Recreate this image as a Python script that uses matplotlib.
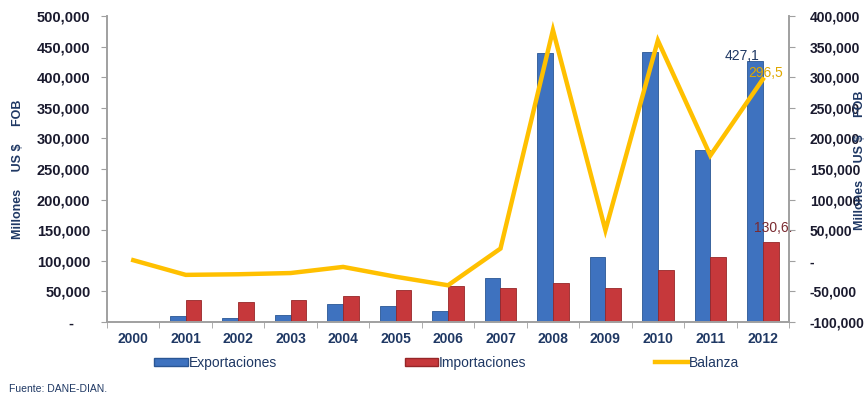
import numpy as np
from matplotlib import pyplot as plt
from matplotlib.lines import Line2D
from matplotlib.patches import Patch

years = ["2000", "2001", "2002", "2003", "2004", "2005", "2006",
         "2007", "2008", "2009", "2010", "2011", "2012"]
exportaciones = [0, 9000, 6500, 11000, 29000, 26000, 18000,
                 72000, 440000, 106000, 441000, 281000, 427100]
importaciones = [0, 36000, 32000, 36000, 42000, 52000, 59000,
                 56000, 64000, 55000, 85000, 106000, 130600]
balanza = [1000, -23000, -22000, -20000, -10000, -26000, -40000,
           20000, 377000, 50000, 360000, 172000, 296500]

navy = "#1F3864"
blue = "#3E72BF"
red = "#C6383B"
gold = "#FFC000"

plt.rcParams["font.family"] = ["Liberation Sans", "DejaVu Sans"]

fig = plt.figure(figsize=(8.66, 4.0), dpi=100)
ax1 = fig.add_axes([0.1236, 0.195, 0.7875, 0.765])
ax2 = ax1.twinx()

x = np.arange(len(years))
w = 0.3
ax1.bar(x - w / 2, exportaciones, w, color=blue, edgecolor="#2A5694", linewidth=0.6, zorder=2)
ax1.bar(x + w / 2, importaciones, w, color=red, edgecolor="#962628", linewidth=0.6, zorder=2)
ax2.plot(x, balanza, color=gold, linewidth=3.2, solid_joinstyle="miter", zorder=3)

ax1.set_xlim(-0.5, len(years) - 0.5)
ax1.set_ylim(0, 500000)
ax2.set_ylim(-100000, 400000)

def fmt(v, left):
    if v == 0:
        return "-    " if left else "-"
    return "{:,}".format(int(v))

lt = np.arange(0, 500001, 50000)
ax1.set_yticks(lt)
ax1.set_yticklabels([fmt(v, True) for v in lt])
rt = np.arange(-100000, 400001, 50000)
ax2.set_yticks(rt)
ax2.set_yticklabels([fmt(v, False) for v in rt])

ax1.set_xticks(x)
ax1.set_xticklabels(years)
ax1.set_xticks(np.arange(-0.5, len(years), 1), minor=True)
ax1.tick_params(axis="x", which="major", length=0, pad=7)
ax1.tick_params(axis="x", which="minor", length=4, color="#A0A0A0")

for a in (ax1, ax2):
    a.spines["top"].set_visible(False)
    for s in ("left", "right", "bottom"):
        a.spines[s].set_color("#A0A0A0")
        a.spines[s].set_linewidth(1.2)
    a.tick_params(axis="y", length=4, color="#A0A0A0", pad=8)
    for lab in a.get_yticklabels() + a.get_xticklabels():
        lab.set_fontsize(10.5)
        lab.set_fontweight("bold")
        lab.set_color("#1A1A2E")
ax2.tick_params(axis="y", pad=11)
for lab in ax2.get_yticklabels():
    lab.set_fontsize(10)
for lab in ax1.get_xticklabels():
    lab.set_color(navy)
    lab.set_fontsize(10)

ax1.set_ylabel("Millones     US $     FOB", fontsize=9, fontweight="bold", color=navy, labelpad=9)
fig.text(0.993, 0.6, "Millones     US $     FOB", rotation=90, fontsize=9, fontweight="bold",
         color=navy, ha="center", va="center")

ax1.text(x[-1] - 0.4, exportaciones[-1] - 4000, "427,1", ha="center", va="bottom",
         fontsize=10, color=navy)
ax2.text(x[-1] + 0.05, balanza[-1] - 1000, "296,5", ha="center", va="bottom",
         fontsize=10, color="#E0A800")
ax1.text(x[-1] + 0.2, importaciones[-1] + 12000, "130,6.", ha="center", va="bottom",
         fontsize=10, color="#7A2A30")

h1 = Patch(facecolor=blue, edgecolor="#2A5694")
h2 = Patch(facecolor=red, edgecolor="#962628")
h3 = Line2D([0], [0], color=gold, linewidth=3.2)
for h, lab, xp in [(h1, "Exportaciones", 0.249), (h2, "Importaciones", 0.538), (h3, "Balanza", 0.805)]:
    lg = fig.legend([h], [lab], loc="center", bbox_to_anchor=(xp, 0.093), frameon=False,
                    handlelength=2.4, handleheight=0.5, handletextpad=0.05, fontsize=10)
    for t in lg.get_texts():
        t.set_color(navy)

fig.text(0.01, 0.02, "Fuente: DANE-DIAN.", fontsize=7.5, color=navy)

fig.savefig("out.png", dpi=100)
